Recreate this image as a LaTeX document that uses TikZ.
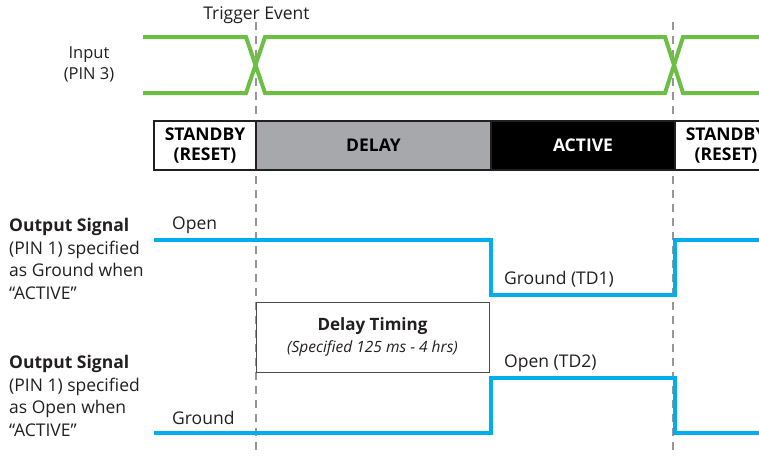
\documentclass[tikz,border=0pt]{standalone}
\usepackage{fontspec}
\setmainfont{Open Sans}
\usetikzlibrary{positioning}
\definecolor{sigblue}{RGB}{0,174,239}
\definecolor{siggreen}{RGB}{108,190,69}
\definecolor{delaygray}{RGB}{167,168,171}
\definecolor{markgray}{RGB}{150,150,152}
\definecolor{textblack}{RGB}{35,31,32}
\tikzset{
    wavein/.style = {line width=4pt, siggreen, line join=miter},
    waveout/.style = {line width=4pt, sigblue, line join=miter},
    marker/.style = {line width=2pt, markgray, dash pattern=on 8pt off 6pt},
    statebox/.style = {draw=textblack, line width=1.5pt, outer sep=0pt, inner sep=0pt, minimum height=49pt, align=center, font=\bfseries\fontsize{17.5}{19.5}\selectfont},
    timebox/.style = {draw=textblack!80, line width=1pt, outer sep=0pt, inner sep=0pt, minimum width=233pt, minimum height=70pt, align=center, fill=white, text=textblack, font=\fontsize{17}{22}\selectfont},
    mylabel/.style = {inner sep=0pt, text=textblack, font=\fontsize{17.5}{22.5}\selectfont},
    sidelabel/.style = {mylabel, anchor=west, align=left}
}
\begin{document}
\begin{tikzpicture}[x=1pt, y=-1pt]
  \useasboundingbox (0,0) rectangle (759,455);
  \clip (0,0) rectangle (759,455);
  % event markers
  \coordinate (trigtop) at (256,22);
  \coordinate (trigbot) at (256,455);
  \coordinate (resettop) at (673,22);
  \coordinate (resetbot) at (673,455);
  \draw[marker] (trigtop) -- (trigbot);
  \draw[marker] (resettop) -- (resetbot);
  \node[mylabel] (trigger) at (256.5,15) {Trigger Event};

  % input
  \node[mylabel, align=center, font=\fontsize{16.5}{21}\selectfont] (input) at (89,64) {Input\\(PIN 3)};
  \draw[wavein] (143,37) -- (246,37) -- (265,93) -- (665,93) -- (683,37) -- (765,37);
  \draw[wavein] (143,93) -- (246,93) -- (265,37) -- (665,37) -- (683,93) -- (765,93);

  % states
  \node[statebox, fill=white, minimum width=102pt] (standbyA) at (205,145.5) {STANDBY\\(RESET)};
  \node[statebox, fill=delaygray, minimum width=235pt, right=0pt of standbyA] (delay) {DELAY};
  \node[statebox, fill=black, text=white, minimum width=184pt, right=0pt of delay] (active) {ACTIVE};
  \node[statebox, fill=white, minimum width=102pt, right=0pt of active] (standbyB) {STANDBY\\(RESET)};

  % output, ground when active
  \node[sidelabel] (outA) at (9,259) {\textbf{Output Signal}\\(PIN 1) specified\\as Ground when\\“ACTIVE”};
  \draw[waveout] (154,240) -- (491,240) -- (491,295) -- (675,295) -- (675,240) -- (765,240);
  \node[mylabel, anchor=west] (openA) at (172,225) {Open};
  \node[mylabel, anchor=west] (groundA) at (504,279.5) {Ground (TD1)};

  % delay timing
  \node[timebox] (timing) at (372.5,337) {\textbf{Delay Timing}\\[0pt]{\itshape\fontsize{15.5}{17}\selectfont (Specified 125 ms - 4 hrs)}};

  % output, open when active
  \node[sidelabel] (outB) at (9,396) {\textbf{Output Signal}\\(PIN 1) specified\\as Open when\\“ACTIVE”};
  \draw[waveout] (154,433) -- (491,433) -- (491,378) -- (675,378) -- (675,433) -- (765,433);
  \node[mylabel, anchor=west] (openB) at (504,363) {Open (TD2)};
  \node[mylabel, anchor=west] (groundB) at (172,418) {Ground};
\end{tikzpicture}
\end{document}
